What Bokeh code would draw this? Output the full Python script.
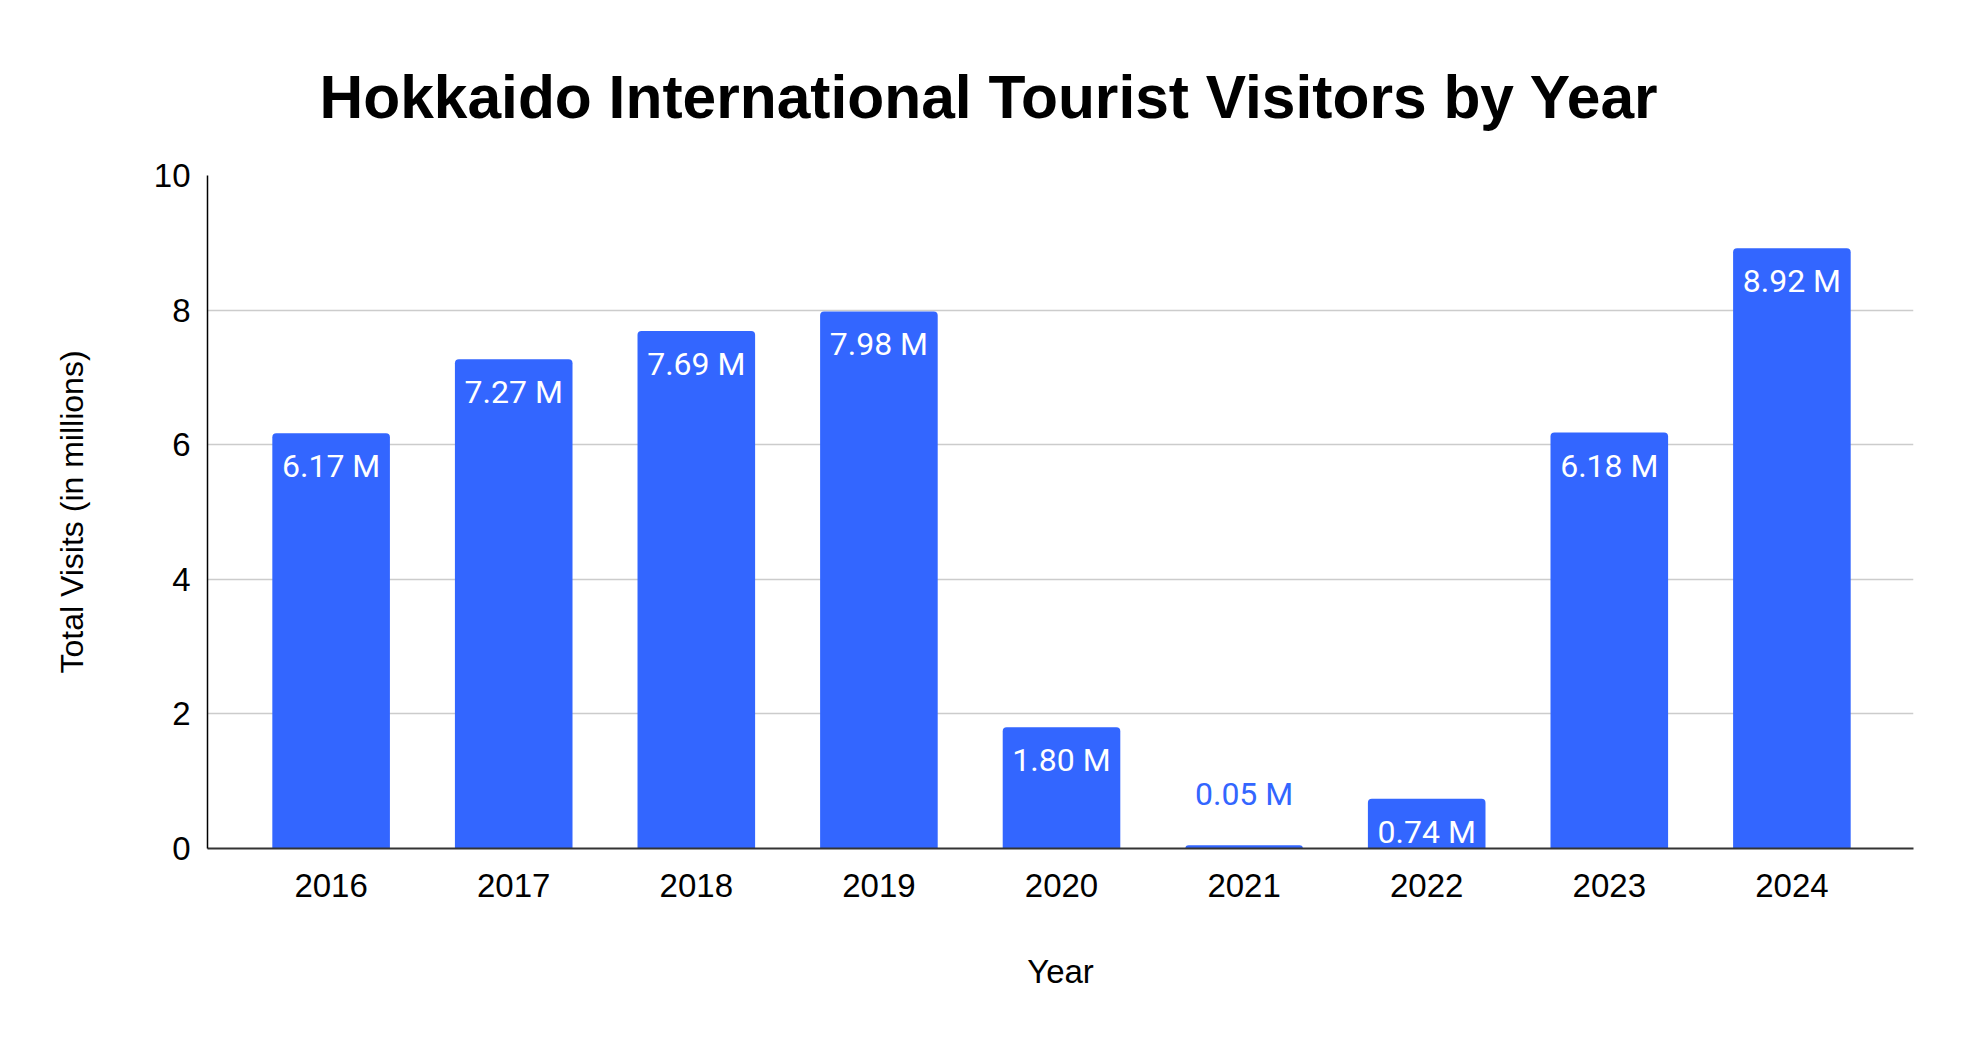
"""
Bar chart of Hokkaido international tourist visitors per year.
"""
from bokeh.plotting import figure
from bokeh.models import ColumnDataSource, Range1d, FixedTicker, LabelSet
from bokeh.core.properties import value
from bokeh.embed import file_html
from bokeh.resources import INLINE

# data
years = ["2016", "2017", "2018", "2019", "2020", "2021", "2022", "2023", "2024"]
visits = [6.17, 7.27, 7.69, 7.98, 1.80, 0.05, 0.74, 6.18, 8.92]
y_ticks = [0, 2, 4, 6, 8, 10]

BAR_COLOR = "#3366ff"
AXIS_FONT = "Liberation Sans"
LABEL_FONT = "Roboto"

xs = list(range(len(years)))
labels = [f"{v:.2f} M" for v in visits]

# labels go inside the bar unless the bar is too short to hold them
inside = [i for i, v in enumerate(visits) if v >= 0.5]
outside = [i for i, v in enumerate(visits) if v < 0.5]

bars = ColumnDataSource(data=dict(x=xs, year=years, visits=visits, label=labels))
inside_src = ColumnDataSource(data=dict(x=[xs[i] for i in inside],
                                        visits=[visits[i] for i in inside],
                                        label=[labels[i] for i in inside]))
outside_src = ColumnDataSource(data=dict(x=[xs[i] for i in outside],
                                         visits=[visits[i] for i in outside],
                                         label=[labels[i] for i in outside]))

p = figure(width=1950, height=1026, output_backend="svg", toolbar_location=None,
           x_range=Range1d(-0.677, len(years) - 1 + 0.666), y_range=Range1d(0, 10),
           title="Hokkaido International Tourist Visitors by Year",
           x_axis_label="Year", y_axis_label="Total Visits (in millions)",
           min_border_left=207, min_border_right=37, min_border_top=175, min_border_bottom=178)

p.vbar(x="x", top="visits", width=0.644, source=bars, fill_color=BAR_COLOR,
       line_color=None, border_radius=(4, 4, 0, 0))

p.add_layout(LabelSet(x="x", y="visits", text="label", source=inside_src,
                      y_offset=-14, text_align="center", text_baseline="top",
                      text_color="white", text_font=value(LABEL_FONT), text_font_size="32px"))
p.add_layout(LabelSet(x="x", y="visits", text="label", source=outside_src,
                      y_offset=40, text_align="center", text_baseline="alphabetic",
                      text_color=BAR_COLOR, text_font=value(LABEL_FONT), text_font_size="32px"))

# title
p.title.text_font = AXIS_FONT
p.title.text_font_size = "60.5px"
p.title.text_font_style = "bold"
p.title.text_color = "black"
p.title.align = "left"
p.title.offset = 112
p.title.standoff = 90

# axes
p.xaxis.ticker = FixedTicker(ticks=xs)
p.xaxis.major_label_overrides = {x: y for x, y in zip(xs, years)}
p.yaxis.ticker = FixedTicker(ticks=y_ticks)
for ax in (p.xaxis, p.yaxis):
    ax.major_tick_line_color = None
    ax.minor_tick_line_color = None
    ax.major_label_text_font = AXIS_FONT
    ax.major_label_text_font_size = "33px"
    ax.major_label_text_color = "black"
    ax.axis_label_text_font = AXIS_FONT
    ax.axis_label_text_font_size = "33px"
    ax.axis_label_text_font_style = "normal"
    ax.axis_label_text_color = "black"
p.yaxis.axis_label_text_font_size = "32px"
p.xaxis.axis_line_color = "#333333"
p.xaxis.axis_line_width = 2
p.xaxis.major_label_standoff = 19
p.xaxis.axis_label_standoff = 53
p.yaxis.axis_line_color = "black"
p.yaxis.axis_line_width = 1.5
p.yaxis.major_label_standoff = 11
p.yaxis.axis_label_standoff = 61

p.xgrid.grid_line_color = None
p.ygrid.ticker = FixedTicker(ticks=y_ticks)
p.ygrid.grid_line_color = "#cccccc"
p.ygrid.grid_line_width = 1.3
p.outline_line_color = None
p.background_fill_color = "white"
p.border_fill_color = "white"

open("out.html", "w").write(file_html(p, INLINE))
